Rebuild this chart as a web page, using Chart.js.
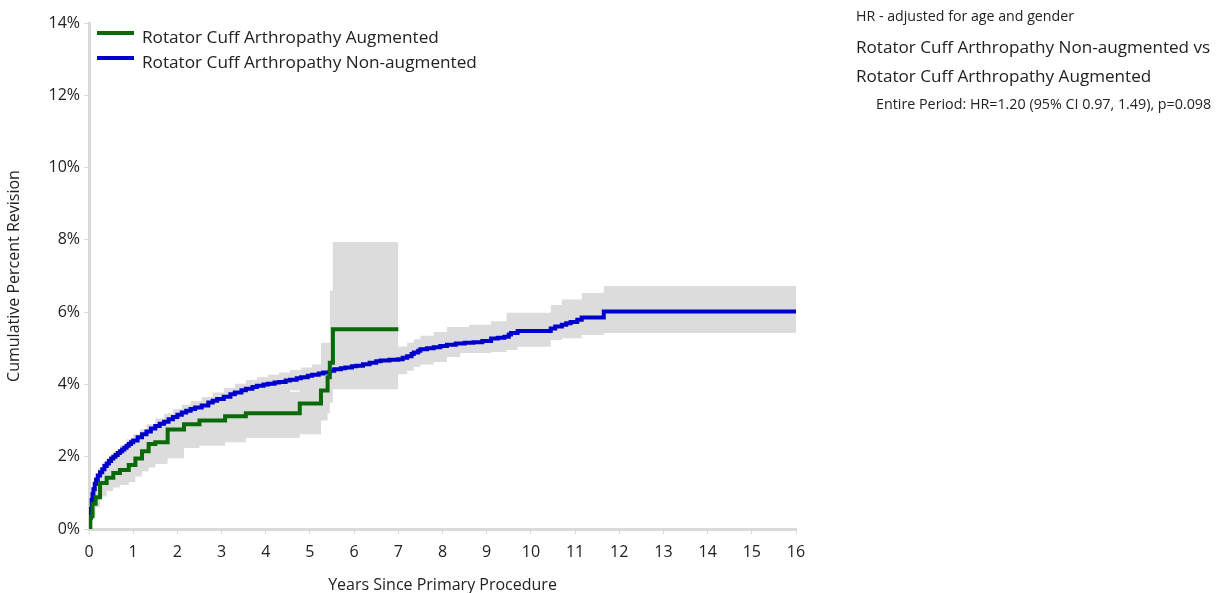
<!DOCTYPE html>
<html>
<head>
<meta charset="utf-8">
<script src="https://cdn.jsdelivr.net/npm/chart.js@4.4.1/dist/chart.umd.min.js"></script>
<style>
  body { margin: 0; background: #fff; font-family: "Open Sans", sans-serif; color: #222; }
  #wrap { position: relative; width: 1228px; height: 593px; }
  .note { position: absolute; white-space: nowrap; }
</style>
</head>
<body>
<div id="wrap">
  <canvas id="myChart" width="1228" height="593"></canvas>
  <div class="note" style="left:856px; top:6px; font-size:14.2px;">HR - adjusted for age and gender</div>
  <div class="note" style="left:856px; top:35px; font-size:17.1px;">Rotator Cuff Arthropathy Non-augmented vs</div>
  <div class="note" style="left:856px; top:64px; font-size:17.1px;">Rotator Cuff Arthropathy Augmented</div>
  <div class="note" style="left:876px; top:94px; font-size:14.3px;">Entire Period: HR=1.20 (95% CI 0.97, 1.49), p=0.098</div>
</div>
<script>
// Rotator Cuff Arthropathy Augmented
const augYears    = [0, 0.03, 0.08, 0.15, 0.25, 0.4, 0.55, 0.7, 0.9, 1.05, 1.2, 1.35, 1.5, 1.78, 2.15, 2.5, 3.08, 3.55, 4.77, 5.25, 5.4, 5.45, 5.52, 7.0];
const augRevision = [0, 0.35, 0.7, 0.88, 1.27, 1.42, 1.55, 1.63, 1.77, 1.95, 2.15, 2.35, 2.4, 2.75, 2.9, 3.0, 3.12, 3.2, 3.47, 3.83, 4.2, 4.6, 5.53, 5.53];
const augCiYears  = [0, 0.08, 0.15, 0.25, 0.4, 0.55, 0.7, 0.9, 1.05, 1.2, 1.35, 1.5, 1.78, 2.15, 2.5, 3.08, 3.55, 4.77, 5.25, 5.4, 5.45, 5.52, 7.0];
const augLower    = [0, 0.35, 0.6, 0.9, 1.05, 1.15, 1.22, 1.3, 1.45, 1.6, 1.7, 1.8, 1.96, 2.24, 2.3, 2.4, 2.52, 2.62, 3.0, 3.2, 3.5, 3.87, 3.87];
const augUpper    = [0, 1.0, 1.3, 1.55, 1.75, 1.95, 2.1, 2.25, 2.4, 2.6, 2.75, 2.9, 3.2, 3.35, 3.5, 3.65, 3.8, 4.3, 5.15, 5.15, 6.59, 7.94, 7.94];

// Rotator Cuff Arthropathy Non-augmented
const nonYears    = [0, 0.02, 0.04, 0.06, 0.08, 0.1, 0.13, 0.16, 0.2, 0.25, 0.3, 0.35, 0.4, 0.45, 0.5, 0.55, 0.6, 0.65, 0.7, 0.75, 0.8, 0.85, 0.9, 0.95, 1.0,
                     1.1, 1.2, 1.3, 1.4, 1.5, 1.6, 1.7, 1.8, 1.9, 2.0, 2.1, 2.2, 2.3, 2.4, 2.55, 2.7, 2.8, 2.9, 3.05, 3.2, 3.3, 3.45, 3.55, 3.7, 3.8, 3.95,
                     4.05, 4.2, 4.3, 4.45, 4.55, 4.7, 4.8, 4.95, 5.05, 5.2, 5.3, 5.45, 5.55, 5.7, 5.8, 5.95, 6.05, 6.2, 6.35, 6.5, 6.6, 6.8, 7.0,
                     7.1, 7.2, 7.3, 7.35, 7.45, 7.5, 7.65, 7.8, 7.95, 8.1, 8.3, 8.5, 8.7, 8.9, 9.1, 9.25, 9.4, 9.5, 9.55, 9.7,
                     10.45, 10.55, 10.7, 10.8, 10.9, 11.05, 11.15, 11.65, 16];
const nonRevision = [0, 0.3, 0.55, 0.8, 0.97, 1.1, 1.25, 1.37, 1.48, 1.57, 1.65, 1.74, 1.81, 1.88, 1.95, 2.0, 2.05, 2.1, 2.15, 2.2, 2.25, 2.3, 2.35, 2.4, 2.45,
                     2.54, 2.62, 2.7, 2.78, 2.85, 2.91, 2.97, 3.04, 3.1, 3.16, 3.22, 3.27, 3.32, 3.36, 3.42, 3.5, 3.55, 3.6, 3.66, 3.73, 3.78, 3.84, 3.88, 3.93, 3.96, 4.0,
                     4.02, 4.05, 4.07, 4.11, 4.13, 4.17, 4.2, 4.24, 4.27, 4.3, 4.33, 4.38, 4.42, 4.45, 4.47, 4.5, 4.52, 4.56, 4.6, 4.64, 4.66, 4.68, 4.7,
                     4.74, 4.78, 4.84, 4.88, 4.93, 4.97, 5.0, 5.03, 5.06, 5.1, 5.13, 5.15, 5.17, 5.2, 5.27, 5.29, 5.32, 5.38, 5.42, 5.48,
                     5.55, 5.6, 5.65, 5.69, 5.73, 5.79, 5.85, 6.02, 6.02];
const nonCiYears  = [0, 0.03, 0.06, 0.1, 0.15, 0.2, 0.3, 0.4, 0.55, 0.7, 0.85, 1.0, 1.15, 1.3, 1.5, 1.7, 1.9, 2.1, 2.3, 2.55, 2.8, 3.05, 3.3, 3.55, 3.8,
                     4.05, 4.3, 4.55, 4.8, 5.05, 5.3, 5.55, 5.8, 6.05, 6.35, 6.6, 7.0, 7.2, 7.35, 7.5, 7.8, 8.1, 8.4, 8.6, 9.1, 9.45, 9.7, 10.45, 10.7, 11.15, 11.65, 16];
const nonLower    = [0, 0.18, 0.6, 0.92, 1.18, 1.3, 1.48, 1.62, 1.82, 1.96, 2.1, 2.24, 2.36, 2.48, 2.62, 2.74, 2.86, 2.98, 3.08, 3.18, 3.3, 3.4, 3.52, 3.6, 3.68,
                     3.74, 3.79, 3.84, 3.9, 3.96, 4.01, 4.08, 4.12, 4.16, 4.22, 4.26, 4.28, 4.38, 4.48, 4.55, 4.62, 4.76, 4.87, 4.87, 4.9, 4.95, 5.04, 5.23, 5.28, 5.37, 5.42, 5.42];
const nonUpper    = [0, 0.45, 1.0, 1.3, 1.55, 1.68, 1.84, 1.97, 2.15, 2.32, 2.48, 2.62, 2.76, 2.9, 3.06, 3.18, 3.32, 3.44, 3.54, 3.65, 3.78, 3.9, 4.02, 4.12, 4.2,
                     4.27, 4.33, 4.4, 4.47, 4.55, 4.62, 4.72, 4.78, 4.85, 4.93, 4.98, 5.05, 5.15, 5.25, 5.35, 5.45, 5.59, 5.59, 5.65, 5.75, 5.98, 5.98, 6.2, 6.35, 6.53, 6.72, 6.72];

const yearTicks = [0, 1, 2, 3, 4, 5, 6, 7, 8, 9, 10, 11, 12, 13, 14, 15, 16];
const percentTicks = [0, 2, 4, 6, 8, 10, 12, 14];

const FONT = "'Open Sans', sans-serif";
const BAND = '#dcdcdc';
const AXIS = '#d9d9d9';

function pts(xs, ys) {
  return xs.map((x, i) => ({ x: x, y: ys[i] }));
}

function line(label, xs, ys, color) {
  return {
    label: label, data: pts(xs, ys), borderColor: color, backgroundColor: color,
    borderWidth: 4, pointRadius: 0, stepped: 'before', fill: false, order: 0, showKey: true
  };
}

function band(xs, ys, fillTo) {
  return {
    label: '', data: pts(xs, ys), borderColor: 'rgba(0,0,0,0)', borderWidth: 0,
    backgroundColor: BAND, pointRadius: 0, stepped: 'before', fill: fillTo, order: 1
  };
}

// legend drawn inside the plot, top left
const keyPlugin = {
  id: 'keyInside',
  afterDraw(chart) {
    const ctx = chart.ctx;
    const area = chart.chartArea;
    let y = area.top + 10;
    ctx.save();
    ctx.font = '17.2px ' + FONT;
    ctx.textBaseline = 'middle';
    chart.data.datasets.forEach(ds => {
      if (!ds.showKey) return;
      ctx.fillStyle = ds.borderColor;
      ctx.fillRect(area.left + 8, y - 2, 37, 4);
      ctx.fillStyle = '#222';
      ctx.fillText(ds.label, area.left + 53, y + 5);
      y += 25;
    });
    ctx.restore();
  }
};

new Chart(document.getElementById('myChart'), {
  type: 'line',
  data: {
    datasets: [
      line('Rotator Cuff Arthropathy Augmented', augYears, augRevision, '#0a6a0a'),
      line('Rotator Cuff Arthropathy Non-augmented', nonYears, nonRevision, '#0000cc'),
      band(augCiYears, augLower, false),
      band(augCiYears, augUpper, 2),
      band(nonCiYears, nonLower, false),
      band(nonCiYears, nonUpper, 4)
    ]
  },
  options: {
    responsive: false,
    animation: false,
    layout: { padding: { top: 23, right: 432, left: 5, bottom: 0 } },
    plugins: {
      legend: { display: false },
      tooltip: { enabled: false }
    },
    scales: {
      x: {
        type: 'linear', min: 0, max: 16,
        afterBuildTicks: s => { s.ticks = yearTicks.map(v => ({ value: v })); },
        afterFit: s => { s.height = 64; },
        grid: { drawOnChartArea: false, color: AXIS, tickLength: 5 },
        border: { color: AXIS, width: 3 },
        ticks: { color: '#222', font: { family: FONT, size: 16 }, padding: 9 },
        title: { display: true, text: 'Years Since Primary Procedure', color: '#222', font: { family: FONT, size: 16, lineHeight: 1 }, padding: { top: 0, bottom: 0 } }
      },
      y: {
        type: 'linear', min: 0, max: 14,
        afterBuildTicks: s => { s.ticks = percentTicks.map(v => ({ value: v })); },
        afterFit: s => { s.width = 84; },
        grid: { drawOnChartArea: false, color: AXIS, tickLength: 5 },
        border: { color: AXIS, width: 3 },
        ticks: { color: '#222', font: { family: FONT, size: 16 }, padding: 4, callback: v => v + '%' },
        title: { display: true, text: 'Cumulative Percent Revision', color: '#222', font: { family: FONT, size: 16 }, padding: { top: 0, bottom: 0 } }
      }
    }
  },
  plugins: [keyPlugin]
});
</script>
</body>
</html>
